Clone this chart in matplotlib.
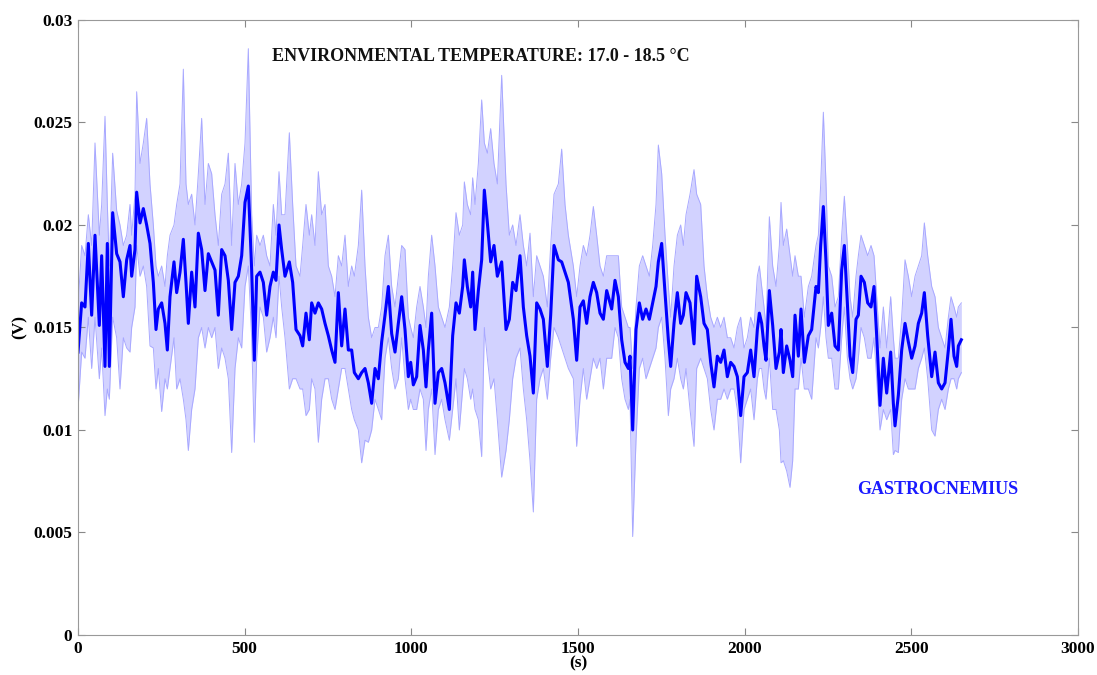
import numpy as np
import matplotlib
matplotlib.use("Agg")
import matplotlib.pyplot as plt

# time (s), mean signal, upper and lower envelope (all in mV)
t = [0, 11, 21, 31, 41, 51, 64, 71, 81, 88, 94, 104, 116, 126, 136, 146, 156, 161, 171, 176,
     186, 196, 206, 216, 226, 234, 241, 251, 261, 268, 276, 288, 296, 306, 316, 324, 331, 341, 351, 361,
     371, 381, 391, 401, 411, 421, 431, 441, 451, 461, 471, 481, 491, 501, 511, 521, 529, 536, 546, 556,
     566, 576, 586, 594, 603, 611, 621, 634, 644, 654, 666, 674, 684, 694, 701, 711, 721, 731, 741, 751,
     761, 771, 781, 791, 801, 811, 821, 829, 841, 851, 861, 871, 881, 891, 901, 911, 921, 931, 941, 951,
     961, 971, 981, 991, 998, 1006, 1016, 1026, 1036, 1044, 1051, 1061, 1071, 1081, 1091, 1101, 1114, 1124, 1134, 1144,
     1154, 1159, 1168, 1178, 1184, 1191, 1201, 1211, 1219, 1228, 1238, 1248, 1258, 1271, 1284, 1294, 1304, 1314, 1326, 1336,
     1346, 1356, 1366, 1376, 1386, 1396, 1408, 1418, 1428, 1441, 1451, 1461, 1471, 1486, 1496, 1506, 1516, 1526, 1536, 1546,
     1556, 1566, 1576, 1586, 1601, 1611, 1621, 1631, 1641, 1651, 1656, 1664, 1674, 1684, 1694, 1704, 1714, 1724, 1734, 1741,
     1751, 1761, 1771, 1778, 1788, 1798, 1808, 1816, 1824, 1836, 1848, 1856, 1868, 1878, 1888, 1898, 1908, 1918, 1928, 1938,
     1948, 1958, 1968, 1978, 1988, 1998, 2008, 2018, 2028, 2038, 2044, 2051, 2058, 2064, 2074, 2084, 2094, 2104, 2109, 2116,
     2126, 2136, 2144, 2151, 2161, 2169, 2179, 2191, 2201, 2214, 2221, 2228, 2236, 2244, 2251, 2261, 2271, 2281, 2291, 2299,
     2308, 2316, 2324, 2334, 2341, 2349, 2359, 2369, 2379, 2388, 2396, 2406, 2416, 2426, 2438, 2446, 2451, 2461, 2471, 2481,
     2491, 2501, 2511, 2521, 2531, 2539, 2549, 2561, 2571, 2581, 2591, 2601, 2611, 2619, 2628, 2636, 2641, 2650]

mean_mv = [13.8, 16.2, 16.0, 19.1, 15.6, 19.5, 15.1, 18.5, 13.1, 19.1, 13.1, 20.6, 18.6, 18.2, 16.5, 18.3, 19.0, 17.5, 18.8, 21.6,
           20.1, 20.8, 20.0, 19.1, 17.2, 14.9, 15.9, 16.2, 15.2, 13.9, 16.5, 18.2, 16.7, 17.7, 19.3, 17.2, 15.2, 17.7, 16.0, 19.6,
           18.8, 16.8, 18.6, 18.2, 17.8, 15.6, 18.8, 18.5, 17.3, 14.9, 17.2, 17.5, 18.5, 21.1, 21.9, 17.8, 13.4, 17.5, 17.7, 17.2,
           15.6, 17.0, 17.7, 17.3, 20.0, 18.8, 17.5, 18.2, 17.2, 14.9, 14.6, 14.1, 15.7, 14.4, 16.2, 15.7, 16.2, 15.9, 15.2, 14.6,
           13.9, 13.3, 16.7, 14.1, 15.9, 13.9, 13.9, 12.8, 12.5, 12.8, 13.0, 12.3, 11.3, 13.0, 12.5, 14.3, 15.6, 17.0, 14.7, 13.8,
           15.2, 16.5, 14.9, 12.6, 13.3, 12.2, 12.6, 15.1, 13.9, 12.1, 13.9, 15.7, 11.3, 12.8, 13.0, 12.3, 11.0, 14.6, 16.2, 15.7,
           17.0, 18.3, 17.0, 16.0, 17.7, 14.9, 16.8, 18.3, 21.7, 20.1, 18.2, 19.0, 17.5, 18.2, 14.9, 15.4, 17.2, 16.8, 18.5, 16.0,
           14.6, 13.6, 11.8, 16.2, 15.9, 15.4, 13.1, 15.6, 19.0, 18.3, 18.2, 17.7, 17.2, 15.4, 13.4, 16.0, 16.3, 15.2, 16.5, 17.2,
           16.7, 15.7, 15.4, 16.8, 15.9, 17.3, 16.5, 14.4, 13.3, 13.0, 13.6, 10.0, 14.9, 16.2, 15.4, 15.9, 15.4, 16.2, 17.0, 18.2,
           19.1, 16.7, 14.4, 13.1, 15.2, 16.7, 15.2, 15.6, 16.7, 16.2, 14.2, 17.5, 16.5, 15.2, 14.9, 13.3, 12.1, 13.6, 13.3, 13.9,
           12.6, 13.3, 13.1, 12.6, 10.7, 12.6, 12.8, 13.9, 12.6, 14.9, 15.7, 15.2, 14.1, 13.4, 16.8, 15.1, 13.0, 13.8, 14.9, 12.8,
           14.1, 13.4, 12.6, 15.6, 13.6, 15.9, 13.3, 14.6, 14.9, 17.0, 16.7, 19.0, 20.9, 18.2, 15.1, 15.7, 14.1, 13.9, 17.8, 19.0,
           16.2, 13.6, 12.8, 15.4, 15.6, 17.5, 17.2, 16.2, 16.0, 17.0, 14.6, 11.2, 13.5, 11.8, 13.8, 11.3, 10.2, 11.7, 13.9, 15.2,
           14.3, 13.5, 14.1, 15.2, 15.7, 16.7, 14.6, 12.6, 13.8, 12.3, 12.0, 12.3, 13.9, 15.4, 13.6, 13.1, 14.1, 14.4]

upper_mv = [16.0, 19.0, 18.5, 20.5, 19.0, 24.0, 19.5, 21.0, 25.3, 21.0, 18.0, 23.5, 20.7, 20.0, 19.0, 19.5, 21.0, 19.5, 21.5, 26.5,
            23.0, 24.0, 25.2, 22.0, 20.0, 18.0, 17.5, 18.0, 17.0, 18.5, 19.5, 20.0, 21.0, 22.0, 27.6, 22.0, 21.0, 21.5, 20.0, 22.5,
            25.2, 21.0, 23.0, 22.5, 20.5, 19.0, 21.5, 22.0, 23.5, 19.0, 23.0, 21.0, 22.0, 24.0, 28.6, 20.5, 18.0, 19.5, 19.0, 19.5,
            18.5, 18.0, 21.0, 19.5, 22.6, 20.5, 20.5, 24.5, 21.0, 18.0, 17.5, 19.0, 21.0, 19.5, 20.5, 19.0, 22.6, 20.5, 21.0, 18.0,
            17.5, 16.5, 18.5, 18.0, 19.5, 17.0, 18.0, 17.5, 19.0, 21.7, 18.0, 15.5, 14.5, 15.0, 15.0, 16.0, 18.5, 19.5, 17.0, 16.0,
            17.5, 19.0, 18.8, 15.5, 15.0, 14.5, 16.0, 17.0, 16.0, 15.0, 17.5, 19.5, 18.0, 16.0, 15.5, 15.0, 16.0, 18.0, 20.6, 19.5,
            20.0, 22.1, 21.0, 20.5, 22.3, 21.0, 23.0, 26.1, 24.0, 23.5, 24.7, 23.0, 22.0, 27.3, 22.0, 19.5, 20.0, 19.0, 20.5, 19.0,
            18.0, 19.6, 16.5, 18.5, 18.0, 17.5, 16.0, 19.0, 21.5, 22.0, 23.7, 21.0, 19.5, 18.0, 16.5, 18.0, 19.0, 18.5, 19.5, 20.9,
            19.5, 18.0, 17.5, 18.5, 18.5, 18.5, 18.5, 16.0, 15.5, 15.0, 15.0, 13.0, 16.0, 18.0, 18.5, 18.0, 17.5, 19.0, 21.0, 23.9,
            22.5, 19.5, 17.0, 15.5, 18.0, 19.5, 20.0, 19.0, 20.5, 21.5, 22.7, 21.5, 21.0, 18.0, 16.5, 15.5, 15.0, 15.5, 15.0, 15.5,
            14.5, 14.5, 14.0, 15.0, 15.5, 14.0, 14.5, 15.5, 15.0, 17.5, 18.0, 17.0, 16.0, 15.0, 20.4, 18.0, 17.0, 19.0, 21.1, 19.0,
            19.8, 18.5, 17.5, 18.5, 17.5, 17.5, 15.5, 17.0, 17.5, 19.0, 19.5, 22.0, 25.5, 22.0, 18.0, 17.5, 16.0, 16.5, 19.5, 21.4,
            19.0, 16.5, 15.5, 17.5, 18.5, 19.5, 19.0, 18.5, 19.0, 18.5, 16.5, 14.0, 16.0, 14.0, 16.5, 14.5, 13.5, 13.5, 15.5, 18.3,
            17.5, 16.5, 17.5, 18.0, 18.5, 20.1, 18.5, 17.0, 16.5, 15.0, 14.5, 14.0, 15.5, 16.5, 16.0, 15.5, 16.0, 16.2]

lower_mv = [11.0, 13.8, 13.5, 15.5, 13.0, 15.5, 12.5, 14.0, 10.7, 12.0, 11.5, 15.5, 14.5, 12.0, 14.5, 14.0, 13.8, 15.0, 16.0, 19.0,
            17.5, 18.0, 17.0, 14.1, 14.0, 12.0, 13.0, 10.9, 12.5, 12.0, 13.0, 14.5, 12.0, 12.5, 11.5, 10.5, 9.0, 11.0, 12.0, 14.5,
            15.0, 14.0, 15.0, 14.5, 15.0, 13.0, 14.0, 13.5, 12.5, 8.9, 13.0, 14.5, 14.0, 17.0, 18.0, 14.5, 9.4, 13.5, 16.0, 15.5,
            13.8, 14.5, 15.5, 14.5, 17.5, 16.0, 14.5, 12.0, 12.5, 12.5, 12.0, 12.0, 10.7, 11.0, 12.5, 12.0, 9.4, 11.5, 12.5, 12.5,
            11.5, 11.0, 12.0, 13.0, 13.0, 12.0, 11.0, 10.5, 10.0, 8.4, 9.5, 9.4, 10.0, 11.5, 11.0, 10.5, 13.5, 14.5, 13.0, 12.0,
            12.5, 14.5, 12.5, 11.0, 11.5, 11.0, 11.0, 12.0, 11.5, 9.0, 11.0, 12.0, 8.8, 11.0, 11.5, 10.5, 9.5, 11.0, 12.5, 10.0,
            12.0, 13.0, 12.5, 11.5, 12.0, 11.0, 10.5, 8.7, 15.0, 13.5, 12.0, 12.5, 10.5, 7.7, 9.0, 10.5, 12.5, 13.5, 14.0, 12.0,
            10.5, 8.5, 6.0, 11.5, 12.5, 13.0, 11.5, 13.5, 15.0, 14.5, 14.0, 13.5, 13.0, 12.5, 9.2, 11.5, 13.0, 11.5, 12.5, 13.5,
            13.0, 13.5, 12.0, 13.5, 13.5, 15.0, 14.5, 12.5, 11.5, 11.0, 11.5, 4.8, 9.5, 13.0, 13.5, 12.5, 13.0, 13.5, 14.0, 15.0,
            15.5, 13.5, 10.7, 12.0, 12.5, 13.5, 12.5, 12.0, 13.0, 11.0, 9.2, 13.0, 13.5, 13.0, 12.5, 11.0, 10.0, 11.5, 11.5, 12.0,
            11.5, 12.0, 12.0, 11.0, 8.4, 11.0, 11.5, 12.0, 10.5, 12.5, 13.0, 13.0, 12.0, 11.5, 13.5, 11.0, 11.0, 10.0, 8.4, 8.5,
            8.0, 7.2, 8.5, 12.0, 12.0, 13.5, 12.0, 12.0, 11.5, 14.5, 14.0, 15.0, 16.5, 14.5, 13.5, 13.5, 12.0, 12.0, 14.5, 16.0,
            13.5, 12.5, 12.0, 12.5, 13.5, 15.0, 14.5, 13.5, 13.5, 14.5, 12.5, 10.0, 11.0, 10.5, 11.0, 8.8, 9.0, 8.9, 11.5, 12.5,
            12.0, 12.0, 12.0, 13.0, 13.5, 14.0, 12.5, 10.0, 9.7, 11.0, 11.5, 11.0, 12.0, 12.5, 12.5, 12.0, 12.5, 12.8]

t = np.array(t)
mean_v = np.array(mean_mv) / 1000
upper_v = np.array(upper_mv) / 1000
lower_v = np.array(lower_mv) / 1000

plt.rcParams["font.family"] = ["Liberation Serif", "DejaVu Serif"]
plt.rcParams["font.weight"] = "bold"

fig = plt.figure(figsize=(10.97, 6.75), dpi=100)
ax = fig.add_axes([0.0711, 0.0593, 0.9116, 0.9111])

ax.fill_between(t, lower_v, upper_v, color="#d2d2ff", linewidth=0)
ax.plot(t, upper_v, color="#a8a8ff", linewidth=0.7)
ax.plot(t, lower_v, color="#a8a8ff", linewidth=0.7)
ax.plot(t, mean_v, color="#0000ff", linewidth=2.2)

ax.set_xlim(0, 3000)
ax.set_ylim(0, 0.03)
ax.set_xticks(np.arange(0, 3001, 500))
ax.set_yticks([0, 0.005, 0.01, 0.015, 0.02, 0.025, 0.03])
ax.set_yticklabels(["0", "0.005", "0.01", "0.015", "0.02", "0.025", "0.03"])
ax.tick_params(direction="in", top=True, right=True, length=5, width=0.8,
               color="#888888", labelsize=12.5, pad=4)
for lab in ax.get_xticklabels() + ax.get_yticklabels():
    lab.set_fontweight("bold")
for sp in ax.spines.values():
    sp.set_color("#999999")
    sp.set_linewidth(0.8)

ax.set_xlabel("(s)", fontsize=12.5, fontweight="bold", labelpad=-1)
ax.set_ylabel("(V)", fontsize=12.5, fontweight="bold", labelpad=4)

ax.text(1209, 0.0282, "ENVIRONMENTAL TEMPERATURE: 17.0 - 18.5 °C",
        ha="center", va="center", fontsize=13, fontweight="bold", color="#111111")
ax.text(2578, 0.0071, "GASTROCNEMIUS", ha="center", va="center",
        fontsize=13, fontweight="bold", color="#1a1aff")

fig.savefig("out.png", dpi=100)
plt.close(fig)
